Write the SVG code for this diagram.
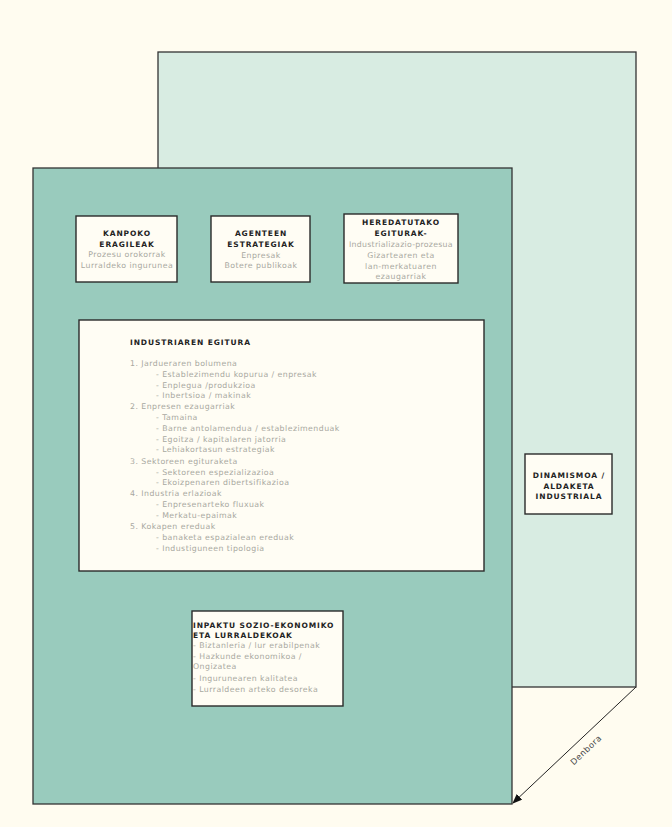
<svg xmlns="http://www.w3.org/2000/svg" width="672" height="827" viewBox="0 0 672 827">
<defs>
<style>
.bg{fill:#fffcf0}
.page{stroke:#333;stroke-width:1.3}
.box{fill:#fffdf4;stroke:#2a2a2a;stroke-width:1.4}
.h{font-family:"DejaVu Sans",Verdana,sans-serif;font-size:7.5px;font-weight:bold;fill:#222;letter-spacing:0.9px}
.t{font-family:"DejaVu Sans",Verdana,sans-serif;font-size:7.8px;fill:#a8a8a0;letter-spacing:0.45px}
.c{text-anchor:middle}
.lbl{font-family:"DejaVu Sans",Verdana,sans-serif;font-size:8.3px;fill:#444;letter-spacing:0.5px}
</style>
<marker id="ah" markerWidth="10" markerHeight="8" refX="9" refY="4" orient="auto" markerUnits="userSpaceOnUse">
<path d="M0,0 L10,4 L0,8 Z" fill="#111"/>
</marker>
</defs>
<rect class="bg" x="0" y="0" width="672" height="827"/>
<g id="back-page">
<rect class="page" x="158" y="52" width="478" height="635" fill="#d8ece2"/>
</g>
<g id="front-page">
<rect class="page" x="33" y="168" width="479" height="636" fill="#99cbbd"/>
</g>
<g id="connectors">
<line x1="636" y1="687" x2="513" y2="803" stroke="#222" stroke-width="1" marker-end="url(#ah)"/>
<text class="lbl c" transform="translate(588,752) rotate(-43.3)">Denbora</text>
</g>
<g id="kanpoko">
<rect class="box" x="76" y="216" width="101" height="66"/>
<text class="h c" x="127" y="236">KANPOKO</text>
<text class="h c" x="127" y="247">ERAGILEAK</text>
<text class="t c" x="127" y="257">Prozesu orokorrak</text>
<text class="t c" x="127" y="268">Lurraldeko ingurunea</text>
</g>
<g id="agenteen">
<rect class="box" x="211" y="216" width="99" height="66"/>
<text class="h c" x="261" y="236">AGENTEEN</text>
<text class="h c" x="261" y="247">ESTRATEGIAK</text>
<text class="t c" x="261" y="258">Enpresak</text>
<text class="t c" x="261" y="268">Botere publikoak</text>
</g>
<g id="heredatutako">
<rect class="box" x="344" y="214" width="114" height="69"/>
<text class="h c" x="401" y="225">HEREDATUTAKO</text>
<text class="h c" x="401" y="236">EGITURAK-</text>
<text class="t c" x="401" y="247" textLength="104">Industrializazio-prozesua</text>
<text class="t c" x="401" y="258">Gizartearen eta</text>
<text class="t c" x="401" y="269">lan-merkatuaren</text>
<text class="t c" x="401" y="279">ezaugarriak</text>
</g>
<g id="industriaren-egitura">
<rect class="box" x="79" y="320" width="405" height="251"/>
<text class="h" x="130" y="345">INDUSTRIAREN EGITURA</text>
<text class="t" x="130" y="366">1. Jardueraren bolumena</text>
<text class="t" x="156" y="377">- Establezimendu kopurua / enpresak</text>
<text class="t" x="156" y="388">- Enplegua /produkzioa</text>
<text class="t" x="156" y="398">- Inbertsioa / makinak</text>
<text class="t" x="130" y="409">2. Enpresen ezaugarriak</text>
<text class="t" x="156" y="420">- Tamaina</text>
<text class="t" x="156" y="431">- Barne antolamendua / establezimenduak</text>
<text class="t" x="156" y="442">- Egoitza / kapitalaren jatorria</text>
<text class="t" x="156" y="452">- Lehiakortasun estrategiak</text>
<text class="t" x="130" y="464">3. Sektoreen egituraketa</text>
<text class="t" x="156" y="475">- Sektoreen espezializazioa</text>
<text class="t" x="156" y="485">- Ekoizpenaren dibertsifikazioa</text>
<text class="t" x="130" y="496">4. Industria erlazioak</text>
<text class="t" x="156" y="507">- Enpresenarteko fluxuak</text>
<text class="t" x="156" y="518">- Merkatu-epaimak</text>
<text class="t" x="130" y="529">5. Kokapen ereduak</text>
<text class="t" x="156" y="540">- banaketa espazialean ereduak</text>
<text class="t" x="156" y="551">- Industiguneen tipologia</text>
</g>
<g id="inpaktu">
<rect class="box" x="192" y="611" width="151" height="95"/>
<text class="h" x="193" y="628">INPAKTU SOZIO-EKONOMIKO</text>
<text class="h" x="193" y="638">ETA LURRALDEKOAK</text>
<text class="t" x="193" y="648">- Biztanleria / lur erabilpenak</text>
<text class="t" x="193" y="659">- Hazkunde ekonomikoa /</text>
<text class="t" x="193" y="669">Ongizatea</text>
<text class="t" x="193" y="681">- Ingurunearen kalitatea</text>
<text class="t" x="193" y="692">- Lurraldeen arteko desoreka</text>
</g>
<g id="dinamismoa">
<rect class="box" x="525" y="454" width="87" height="60"/>
<text class="h c" x="569" y="478">DINAMISMOA /</text>
<text class="h c" x="569" y="489">ALDAKETA</text>
<text class="h c" x="569" y="499">INDUSTRIALA</text>
</g>
</svg>
